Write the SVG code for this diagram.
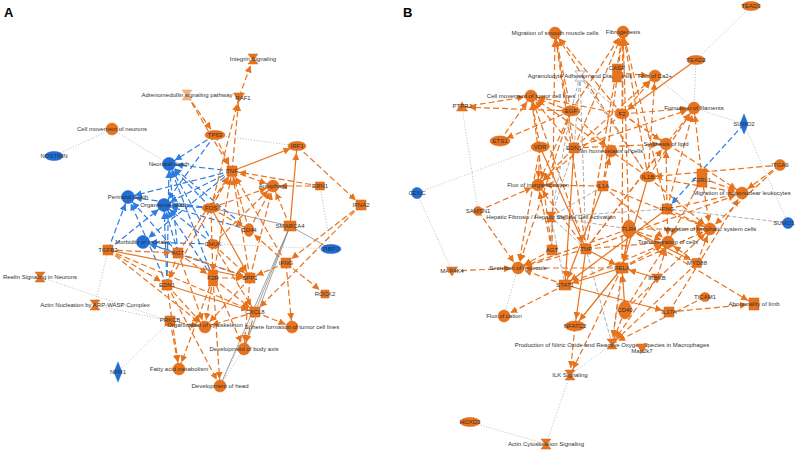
<svg xmlns="http://www.w3.org/2000/svg" xmlns:xlink="http://www.w3.org/1999/xlink" width="796" height="451" viewBox="0 0 796 451">
<style>
.n{fill:#E8731C;stroke:#d4651a;stroke-width:.5}
.nb{fill:#1F6FD8;stroke:#1a5fc0;stroke-width:.5}
.nl{fill:#F4B183;stroke:#e8a070;stroke-width:.5}
.nw{fill:#fff;stroke:#999;stroke-width:.7}
.o{stroke:#E8731C;stroke-width:1.2;stroke-dasharray:6 3;fill:none;marker-end:url(#ao)}
.os{stroke:#E8731C;stroke-width:1.2;fill:none;marker-end:url(#ao)}
.b{stroke:#2D7DE0;stroke-width:1.2;stroke-dasharray:6 3;fill:none;marker-end:url(#ab)}
.gs{stroke:#8a8a8a;stroke-width:.8;fill:none}
.gd{stroke:#aaa;stroke-width:.8;stroke-dasharray:1 1.8;fill:none}
.gdash{stroke:#999;stroke-width:.8;stroke-dasharray:4 2;fill:none}
text{font-family:"Liberation Sans",Arial,sans-serif;font-size:6px;fill:#333;text-anchor:middle}
.pl{font-size:13px;font-weight:bold;fill:#000;text-anchor:start}
</style>
<defs>
<marker id="ao" viewBox="0 0 7 7" refX="14" refY="3.5" markerWidth="7" markerHeight="7" markerUnits="userSpaceOnUse" orient="auto"><path d="M0,0L7,3.5L0,7z" fill="#E8731C"/></marker>
<marker id="ab" viewBox="0 0 7 7" refX="14" refY="3.5" markerWidth="7" markerHeight="7" markerUnits="userSpaceOnUse" orient="auto"><path d="M0,0L7,3.5L0,7z" fill="#2D7DE0"/></marker>
<path id="hg" d="M-5,-5H5L1.2,0L5,5H-5L-1.2,0Z"/>
<path id="tri" d="M0,-5L5.5,4H-5.5Z"/>
<path id="vtri" d="M-5.5,-4H5.5L0,5Z"/>
</defs>
<rect width="796" height="451" fill="#fff"/>
<text class="pl" x="4" y="17">A</text>
<text class="pl" x="403" y="17">B</text>

<g id="connectors">
<g id="a-edges">
<line class="gd" x1="112" y1="129" x2="54" y2="156"/>
<line class="gd" x1="112" y1="129" x2="169" y2="164"/>
<line class="gd" x1="215" y1="135" x2="297" y2="146"/>
<line class="gd" x1="40" y1="277" x2="170" y2="321"/>
<line class="gd" x1="95" y1="305" x2="170" y2="321"/>
<line class="gd" x1="118" y1="372" x2="170" y2="321"/>
<line class="gd" x1="108" y1="250" x2="95" y2="305"/>
<line class="gd" x1="213" y1="244" x2="331" y2="249"/>
<line class="gd" x1="320" y1="186" x2="331" y2="249"/>
<line class="gd" x1="244" y1="349" x2="220" y2="386"/>
<line class="gd" x1="255" y1="312" x2="220" y2="386"/>
<line class="gs" x1="211" y1="208" x2="290" y2="226"/>
<line class="gs" x1="290" y1="226" x2="331" y2="249"/>
<line class="gs" x1="290" y1="226" x2="255" y2="312"/>
<line class="gs" x1="290" y1="226" x2="220" y2="386"/>
<line class="gs" x1="290" y1="226" x2="244" y2="349"/>
<line class="b" x1="215" y1="135" x2="169" y2="164"/>
<line class="b" x1="215" y1="135" x2="164" y2="205"/>
<line class="b" x1="232" y1="171" x2="169" y2="164"/>
<line class="b" x1="232" y1="171" x2="128" y2="197"/>
<line class="b" x1="232" y1="171" x2="164" y2="205"/>
<line class="b" x1="232" y1="171" x2="143" y2="242"/>
<line class="b" x1="211" y1="208" x2="169" y2="164"/>
<line class="b" x1="211" y1="208" x2="128" y2="197"/>
<line class="b" x1="211" y1="208" x2="164" y2="205"/>
<line class="b" x1="213" y1="244" x2="169" y2="164"/>
<line class="b" x1="213" y1="244" x2="164" y2="205"/>
<line class="b" x1="213" y1="244" x2="143" y2="242"/>
<line class="b" x1="178" y1="253" x2="169" y2="164"/>
<line class="b" x1="178" y1="253" x2="128" y2="197"/>
<line class="b" x1="178" y1="253" x2="164" y2="205"/>
<line class="b" x1="178" y1="253" x2="143" y2="242"/>
<line class="b" x1="167" y1="285" x2="169" y2="164"/>
<line class="b" x1="167" y1="285" x2="164" y2="205"/>
<line class="b" x1="167" y1="285" x2="128" y2="197"/>
<line class="b" x1="213" y1="278" x2="169" y2="164"/>
<line class="b" x1="213" y1="278" x2="164" y2="205"/>
<line class="b" x1="249" y1="230" x2="164" y2="205"/>
<line class="b" x1="249" y1="230" x2="169" y2="164"/>
<line class="b" x1="108" y1="250" x2="128" y2="197"/>
<line class="b" x1="108" y1="250" x2="164" y2="205"/>
<line class="b" x1="250" y1="278" x2="143" y2="242"/>
<line class="o" x1="239" y1="97" x2="253" y2="59"/>
<line class="o" x1="211" y1="208" x2="239" y2="97"/>
<line class="o" x1="232" y1="171" x2="239" y2="97"/>
<line class="o" x1="187" y1="95" x2="215" y2="135"/>
<line class="o" x1="187" y1="95" x2="232" y2="171"/>
<line class="o" x1="320" y1="186" x2="232" y2="171"/>
<line class="o" x1="320" y1="186" x2="273" y2="186"/>
<line class="o" x1="232" y1="171" x2="273" y2="186"/>
<line class="o" x1="297" y1="146" x2="361" y2="205"/>
<line class="o" x1="361" y1="205" x2="286" y2="263"/>
<line class="o" x1="361" y1="205" x2="255" y2="312"/>
<line class="o" x1="211" y1="208" x2="232" y2="171"/>
<line class="o" x1="211" y1="208" x2="273" y2="186"/>
<line class="o" x1="249" y1="230" x2="273" y2="186"/>
<line class="o" x1="250" y1="278" x2="273" y2="186"/>
<line class="o" x1="249" y1="230" x2="232" y2="171"/>
<line class="o" x1="250" y1="278" x2="232" y2="171"/>
<line class="o" x1="178" y1="253" x2="232" y2="171"/>
<line class="o" x1="167" y1="285" x2="232" y2="171"/>
<line class="o" x1="213" y1="278" x2="232" y2="171"/>
<line class="o" x1="286" y1="263" x2="232" y2="171"/>
<line class="o" x1="286" y1="263" x2="325" y2="294"/>
<line class="o" x1="286" y1="263" x2="250" y2="278"/>
<line class="o" x1="286" y1="263" x2="249" y2="230"/>
<line class="o" x1="286" y1="263" x2="292" y2="327"/>
<line class="o" x1="215" y1="135" x2="232" y2="171"/>
<line class="o" x1="108" y1="250" x2="178" y2="253"/>
<line class="o" x1="108" y1="250" x2="167" y2="285"/>
<line class="o" x1="108" y1="250" x2="205" y2="327"/>
<line class="o" x1="108" y1="250" x2="255" y2="312"/>
<line class="o" x1="178" y1="253" x2="213" y2="278"/>
<line class="o" x1="178" y1="253" x2="167" y2="285"/>
<line class="o" x1="178" y1="253" x2="205" y2="327"/>
<line class="o" x1="178" y1="253" x2="250" y2="278"/>
<line class="o" x1="167" y1="285" x2="205" y2="327"/>
<line class="o" x1="167" y1="285" x2="179" y2="369"/>
<line class="o" x1="167" y1="285" x2="220" y2="386"/>
<line class="o" x1="213" y1="278" x2="205" y2="327"/>
<line class="o" x1="213" y1="278" x2="255" y2="312"/>
<line class="o" x1="213" y1="278" x2="220" y2="386"/>
<line class="o" x1="213" y1="278" x2="179" y2="369"/>
<line class="o" x1="250" y1="278" x2="205" y2="327"/>
<line class="o" x1="250" y1="278" x2="244" y2="349"/>
<line class="o" x1="255" y1="312" x2="205" y2="327"/>
<line class="o" x1="255" y1="312" x2="292" y2="327"/>
<line class="o" x1="255" y1="312" x2="244" y2="349"/>
<line class="o" x1="170" y1="321" x2="179" y2="369"/>
<line class="o" x1="170" y1="321" x2="205" y2="327"/>
<line class="o" x1="213" y1="244" x2="255" y2="312"/>
<line class="o" x1="213" y1="244" x2="250" y2="278"/>
<line class="o" x1="211" y1="208" x2="213" y2="278"/>
<line class="o" x1="211" y1="208" x2="249" y2="230"/>
<line class="o" x1="290" y1="226" x2="273" y2="186"/>
<line class="o" x1="213" y1="278" x2="250" y2="278"/>
<line class="o" x1="213" y1="278" x2="244" y2="349"/>
<line class="o" x1="213" y1="244" x2="273" y2="186"/>
<line class="os" x1="232" y1="171" x2="297" y2="146"/>
<line class="os" x1="290" y1="226" x2="297" y2="146"/>
<line class="os" x1="108" y1="250" x2="250" y2="278"/>
<line class="os" x1="211" y1="208" x2="250" y2="278"/>
<line class="os" x1="167" y1="285" x2="255" y2="312"/>
</g>
<g id="b-edges">
<line class="gd" x1="751" y1="6" x2="696" y2="60"/>
<line class="gd" x1="696" y1="60" x2="694" y2="108"/>
<line class="gd" x1="655" y1="76" x2="694" y2="108"/>
<line class="gd" x1="694" y1="108" x2="744" y2="124"/>
<line class="gd" x1="744" y1="124" x2="788" y2="223"/>
<line class="gd" x1="462" y1="107" x2="478" y2="211"/>
<line class="gd" x1="417" y1="193" x2="540" y2="147"/>
<line class="gd" x1="417" y1="193" x2="452" y2="271"/>
<line class="gd" x1="518" y1="268" x2="504" y2="316"/>
<line class="gd" x1="470" y1="422" x2="546" y2="444"/>
<line class="gd" x1="570" y1="375" x2="546" y2="444"/>
<line class="gd" x1="612" y1="344" x2="570" y2="375"/>
<line class="gdash" x1="580" y1="76" x2="622" y2="114"/>
<line class="gdash" x1="580" y1="76" x2="571" y2="111"/>
<line class="gdash" x1="580" y1="76" x2="574" y2="148"/>
<line class="gdash" x1="580" y1="76" x2="586" y2="249"/>
<line class="gdash" x1="580" y1="76" x2="648" y2="177"/>
<line class="gdash" x1="551" y1="217" x2="586" y2="249"/>
<line class="gdash" x1="551" y1="217" x2="552" y2="250"/>
<line class="gdash" x1="551" y1="217" x2="667" y2="209"/>
<line class="gdash" x1="551" y1="217" x2="603" y2="186"/>
<line class="gdash" x1="551" y1="217" x2="629" y2="229"/>
<line class="gdash" x1="551" y1="217" x2="571" y2="111"/>
<line class="gdash" x1="551" y1="217" x2="565" y2="285"/>
<line class="gdash" x1="551" y1="217" x2="574" y2="148"/>
<line class="gdash" x1="667" y1="209" x2="788" y2="223"/>
<line class="gdash" x1="612" y1="344" x2="586" y2="249"/>
<line class="gdash" x1="612" y1="344" x2="629" y2="229"/>
<line class="b" x1="744" y1="124" x2="667" y2="209"/>
<line class="o" x1="571" y1="111" x2="555" y2="33"/>
<line class="o" x1="571" y1="111" x2="531" y2="96"/>
<line class="o" x1="571" y1="111" x2="623" y2="32"/>
<line class="o" x1="571" y1="111" x2="538" y2="185"/>
<line class="o" x1="571" y1="111" x2="500" y2="141"/>
<line class="o" x1="571" y1="111" x2="462" y2="107"/>
<line class="o" x1="571" y1="111" x2="518" y2="268"/>
<line class="o" x1="622" y1="114" x2="555" y2="33"/>
<line class="o" x1="622" y1="114" x2="623" y2="32"/>
<line class="o" x1="622" y1="114" x2="655" y2="76"/>
<line class="o" x1="622" y1="114" x2="694" y2="108"/>
<line class="o" x1="622" y1="114" x2="531" y2="96"/>
<line class="o" x1="622" y1="114" x2="666" y2="144"/>
<line class="o" x1="622" y1="114" x2="538" y2="185"/>
<line class="o" x1="617" y1="73" x2="655" y2="76"/>
<line class="o" x1="574" y1="148" x2="555" y2="33"/>
<line class="o" x1="574" y1="148" x2="531" y2="96"/>
<line class="o" x1="574" y1="148" x2="655" y2="76"/>
<line class="o" x1="574" y1="148" x2="538" y2="185"/>
<line class="o" x1="574" y1="148" x2="666" y2="144"/>
<line class="o" x1="574" y1="148" x2="623" y2="32"/>
<line class="o" x1="540" y1="147" x2="531" y2="96"/>
<line class="o" x1="540" y1="147" x2="538" y2="185"/>
<line class="o" x1="540" y1="147" x2="518" y2="268"/>
<line class="o" x1="500" y1="141" x2="531" y2="96"/>
<line class="o" x1="462" y1="107" x2="531" y2="96"/>
<line class="o" x1="648" y1="177" x2="623" y2="32"/>
<line class="o" x1="648" y1="177" x2="655" y2="76"/>
<line class="o" x1="648" y1="177" x2="694" y2="108"/>
<line class="o" x1="648" y1="177" x2="742" y2="193"/>
<line class="o" x1="648" y1="177" x2="710" y2="229"/>
<line class="o" x1="648" y1="177" x2="531" y2="96"/>
<line class="o" x1="648" y1="177" x2="555" y2="33"/>
<line class="o" x1="603" y1="186" x2="623" y2="32"/>
<line class="o" x1="603" y1="186" x2="538" y2="185"/>
<line class="o" x1="603" y1="186" x2="668" y2="242"/>
<line class="o" x1="603" y1="186" x2="710" y2="229"/>
<line class="o" x1="603" y1="186" x2="611" y2="151"/>
<line class="o" x1="667" y1="209" x2="694" y2="108"/>
<line class="o" x1="667" y1="209" x2="666" y2="144"/>
<line class="o" x1="667" y1="209" x2="742" y2="193"/>
<line class="o" x1="667" y1="209" x2="710" y2="229"/>
<line class="o" x1="667" y1="209" x2="668" y2="242"/>
<line class="o" x1="667" y1="209" x2="623" y2="32"/>
<line class="o" x1="629" y1="229" x2="710" y2="229"/>
<line class="o" x1="629" y1="229" x2="668" y2="242"/>
<line class="o" x1="629" y1="229" x2="623" y2="32"/>
<line class="o" x1="629" y1="229" x2="518" y2="268"/>
<line class="o" x1="629" y1="229" x2="754" y2="304"/>
<line class="o" x1="586" y1="249" x2="623" y2="32"/>
<line class="o" x1="586" y1="249" x2="555" y2="33"/>
<line class="o" x1="586" y1="249" x2="531" y2="96"/>
<line class="o" x1="586" y1="249" x2="538" y2="185"/>
<line class="o" x1="586" y1="249" x2="518" y2="268"/>
<line class="o" x1="586" y1="249" x2="668" y2="242"/>
<line class="o" x1="586" y1="249" x2="742" y2="193"/>
<line class="o" x1="586" y1="249" x2="666" y2="144"/>
<line class="o" x1="586" y1="249" x2="694" y2="108"/>
<line class="o" x1="552" y1="250" x2="538" y2="185"/>
<line class="o" x1="552" y1="250" x2="518" y2="268"/>
<line class="o" x1="552" y1="250" x2="555" y2="33"/>
<line class="o" x1="552" y1="250" x2="531" y2="96"/>
<line class="o" x1="622" y1="268" x2="668" y2="242"/>
<line class="o" x1="622" y1="268" x2="710" y2="229"/>
<line class="o" x1="622" y1="268" x2="623" y2="32"/>
<line class="o" x1="622" y1="268" x2="518" y2="268"/>
<line class="o" x1="622" y1="268" x2="612" y2="344"/>
<line class="o" x1="565" y1="285" x2="518" y2="268"/>
<line class="o" x1="565" y1="285" x2="504" y2="316"/>
<line class="o" x1="565" y1="285" x2="668" y2="242"/>
<line class="o" x1="625" y1="310" x2="668" y2="242"/>
<line class="o" x1="625" y1="310" x2="710" y2="229"/>
<line class="o" x1="625" y1="310" x2="612" y2="344"/>
<line class="o" x1="657" y1="278" x2="668" y2="242"/>
<line class="o" x1="657" y1="278" x2="612" y2="344"/>
<line class="o" x1="697" y1="263" x2="710" y2="229"/>
<line class="o" x1="697" y1="263" x2="668" y2="242"/>
<line class="o" x1="697" y1="263" x2="612" y2="344"/>
<line class="o" x1="705" y1="297" x2="612" y2="344"/>
<line class="o" x1="669" y1="312" x2="754" y2="304"/>
<line class="o" x1="669" y1="312" x2="742" y2="193"/>
<line class="o" x1="575" y1="326" x2="570" y2="375"/>
<line class="o" x1="622" y1="268" x2="570" y2="375"/>
<line class="o" x1="452" y1="271" x2="518" y2="268"/>
<line class="o" x1="478" y1="211" x2="538" y2="185"/>
<line class="o" x1="478" y1="211" x2="518" y2="268"/>
<line class="o" x1="702" y1="178" x2="742" y2="193"/>
<line class="o" x1="702" y1="178" x2="694" y2="108"/>
<line class="o" x1="702" y1="178" x2="710" y2="229"/>
<line class="o" x1="702" y1="178" x2="668" y2="242"/>
<line class="o" x1="780" y1="165" x2="742" y2="193"/>
<line class="o" x1="780" y1="165" x2="648" y2="177"/>
<line class="o" x1="780" y1="165" x2="710" y2="229"/>
<line class="o" x1="574" y1="148" x2="694" y2="108"/>
<line class="o" x1="622" y1="114" x2="742" y2="193"/>
<line class="o" x1="571" y1="111" x2="611" y2="151"/>
<line class="os" x1="696" y1="60" x2="622" y2="114"/>
<line class="os" x1="629" y1="229" x2="622" y2="268"/>
<line class="os" x1="586" y1="249" x2="622" y2="268"/>
<line class="os" x1="648" y1="177" x2="622" y2="268"/>
<line class="os" x1="622" y1="268" x2="565" y2="285"/>
<line class="os" x1="574" y1="148" x2="565" y2="285"/>
<line class="os" x1="586" y1="249" x2="575" y2="326"/>
<line class="os" x1="622" y1="268" x2="575" y2="326"/>
<line class="os" x1="625" y1="310" x2="622" y2="268"/>
<line class="os" x1="603" y1="186" x2="565" y2="285"/>
<line class="os" x1="540" y1="147" x2="586" y2="249"/>
<line class="os" x1="565" y1="285" x2="669" y2="312"/>
<line class="os" x1="667" y1="209" x2="565" y2="285"/>
<line class="os" x1="629" y1="229" x2="697" y2="263"/>
<line class="os" x1="657" y1="278" x2="622" y2="268"/>
</g>
</g>

<g id="a-integrin" transform="translate(253,59)"><use href="#hg" class="n"/><text y="2">Integrin Signaling</text></g>
<g id="a-adrenomedullin" transform="translate(187,95)"><use href="#hg" class="nl"/><text y="2">Adrenomedullin signaling pathway</text></g>
<g id="a-raf1" transform="translate(239,97)"><use href="#vtri" class="n"/><text x="4" y="3">RAF1</text></g>
<g id="a-tp63" transform="translate(215,135)"><ellipse class="n" rx="10" ry="4.5"/><text y="2">TP63</text></g>
<g id="a-irf1" transform="translate(297,146)"><ellipse class="n" rx="9" ry="4.5"/><text y="2">IRF1</text></g>
<g id="a-cellmov" transform="translate(112,129)"><circle class="n" r="6"/><text y="2">Cell movement of neurons</text></g>
<g id="a-nostrin" transform="translate(54,156)"><ellipse class="nb" rx="9" ry="4.5"/><text y="2">NOSTRIN</text></g>
<g id="a-neonatal" transform="translate(169,164)"><circle class="nb" r="6.5"/><text y="2">Neonatal death</text></g>
<g id="a-tnf" transform="translate(232,171)"><rect class="n" x="-5" y="-5" width="10" height="10"/><text y="2">TNF</text></g>
<g id="a-autophagy" transform="translate(273,186)"><circle class="n" r="6"/><text y="2">Autophagy</text></g>
<g id="a-ern1" transform="translate(320,186)"><rect class="n" x="-4.5" y="-4" width="9" height="8"/><text y="2">ERN1</text></g>
<g id="a-ifna2" transform="translate(361,205)"><rect class="n" x="-5" y="-5" width="10" height="10"/><text y="2">IFNA2</text></g>
<g id="a-perinatal" transform="translate(128,197)"><circle class="nb" r="6.5"/><text y="2">Perinatal death</text></g>
<g id="a-organismal" transform="translate(164,205)"><circle class="nb" r="6.5"/><text y="2">Organismal death</text></g>
<g id="a-fos" transform="translate(211,208)"><ellipse class="n" rx="9" ry="4.5"/><text y="2">FOS</text></g>
<g id="a-smarca4" transform="translate(290,226)"><rect class="n" x="-6" y="-5" width="12" height="10"/><text y="2">SMARCA4</text></g>
<g id="a-cd44" transform="translate(249,230)"><ellipse class="n" rx="5" ry="6.5"/><text y="2">CD44</text></g>
<g id="a-chuk" transform="translate(213,244)"><ellipse class="n" rx="6" ry="4.5"/><text y="2">CHUK</text></g>
<g id="a-rbpj" transform="translate(331,249)"><ellipse class="nb" rx="10" ry="4.5"/><text y="2">RBPJ</text></g>
<g id="a-morbidity" transform="translate(143,242)"><circle class="nb" r="6.5"/><text y="2">Morbidity or mortality</text></g>
<g id="a-tgfb3" transform="translate(108,250)"><rect class="n" x="-5" y="-5" width="10" height="10"/><text y="2">TGFB3</text></g>
<g id="a-agt" transform="translate(178,253)"><rect class="n" x="-5" y="-5" width="10" height="10"/><text y="2">AGT</text></g>
<g id="a-ifng" transform="translate(286,263)"><rect class="n" x="-5" y="-5" width="10" height="10"/><text y="2">IFNG</text></g>
<g id="a-f2r" transform="translate(213,278)"><rect class="n" x="-4.5" y="-8" width="9" height="16"/><text y="2">F2R</text></g>
<g id="a-spp1" transform="translate(250,278)"><rect class="n" x="-5" y="-5" width="10" height="10"/><text y="2">SPP1</text></g>
<g id="a-edn1" transform="translate(167,285)"><rect class="n" x="-5" y="-5" width="10" height="10"/><text y="2">EDN1</text></g>
<g id="a-rock2" transform="translate(325,294)"><rect class="n" x="-4" y="-4" width="8" height="8"/><text y="2">ROCK2</text></g>
<g id="a-reelin" transform="translate(40,277)"><use href="#hg" class="n"/><text y="2">Reelin Signaling in Neurons</text></g>
<g id="a-actinnuc" transform="translate(95,305)"><use href="#hg" class="n"/><text y="2">Actin Nucleation by ARP-WASP Complex</text></g>
<g id="a-cxcl8" transform="translate(255,312)"><rect class="n" x="-5" y="-5" width="10" height="10"/><text y="2">CXCL8</text></g>
<g id="a-prkcb" transform="translate(170,321)"><rect class="n" x="-5" y="-5" width="10" height="10"/><text y="1">PRKCB</text></g>
<g id="a-orgcyto" transform="translate(205,327)"><circle class="n" r="6"/><text y="0">Organization of cytoskeleton</text></g>
<g id="a-sphere" transform="translate(292,327)"><circle class="n" r="6"/><text y="2">Sphere formation of tumor cell lines</text></g>
<g id="a-bodyaxis" transform="translate(244,349)"><circle class="n" r="6"/><text y="2">Development of body axis</text></g>
<g id="a-fatty" transform="translate(179,369)"><circle class="n" r="6"/><text y="2">Fatty acid metabolism</text></g>
<g id="a-head" transform="translate(220,386)"><circle class="n" r="6"/><text y="2">Development of head</text></g>
<g id="a-npr1" transform="translate(118,372)"><path class="nb" d="M0,-10L4,0L0,10L-4,0Z"/><text y="2">NPR1</text></g>

<g id="b-smooth" transform="translate(555,33)"><circle class="n" r="6"/><text y="2">Migration of smooth muscle cells</text></g>
<g id="b-tead3" transform="translate(751,6)"><ellipse class="n" rx="9" ry="4.5"/><text y="2">TEAD3</text></g>
<g id="b-fibro" transform="translate(623,32)"><circle class="n" r="6"/><text y="2">Fibrogenesis</text></g>
<g id="b-tead2" transform="translate(696,60)"><ellipse class="n" rx="9" ry="4.5"/><text y="2">TEAD2</text></g>
<g id="b-agranulocyte" transform="translate(580,76)"><use href="#hg" class="nw"/><text y="2">Agranulocyte Adhesion and Diapedesis</text></g>
<g id="b-casr" transform="translate(617,73)"><rect class="n" x="-4.5" y="-9" width="9" height="18"/><text y="-3">CASR</text></g>
<g id="b-fluxca" transform="translate(655,76)"><circle class="n" r="6"/><text y="2">Flux of Ca2+</text></g>
<g id="b-cellmov" transform="translate(531,96)"><circle class="n" r="6"/><text y="2">Cell movement of tumor cell lines</text></g>
<g id="b-ptprj" transform="translate(462,107)"><use href="#tri" class="n"/><text y="1">PTPRJ</text></g>
<g id="b-egf" transform="translate(571,111)"><ellipse class="n" rx="9" ry="5"/><text y="2">EGF</text></g>
<g id="b-f2" transform="translate(622,114)"><ellipse class="n" rx="7" ry="5"/><text y="2">F2</text></g>
<g id="b-filaments" transform="translate(694,108)"><circle class="n" r="6"/><text y="2">Formation of filaments</text></g>
<g id="b-sumo2" transform="translate(744,124)"><path class="nb" d="M0,-10L4,0L0,10L-4,0Z"/><text y="2">SUMO2</text></g>
<g id="b-ets1" transform="translate(500,141)"><ellipse class="n" rx="10" ry="5"/><text y="2">ETS1</text></g>
<g id="b-vdr" transform="translate(540,147)"><ellipse class="n" rx="9" ry="5"/><text y="2">VDR</text></g>
<g id="b-edn1" transform="translate(574,148)"><rect class="n" x="-5" y="-5" width="10" height="10"/><text y="2">EDN1</text></g>
<g id="b-ionhomeo" transform="translate(611,151)"><circle class="n" r="6"/><text y="2">Ion homeostasis of cells</text></g>
<g id="b-lipid" transform="translate(666,144)"><circle class="n" r="6"/><text y="2">Synthesis of lipid</text></g>
<g id="b-itga9" transform="translate(780,165)"><ellipse class="n" rx="5.5" ry="5.5"/><text y="2">ITGA9</text></g>
<g id="b-f2rl1" transform="translate(702,178)"><rect class="n" x="-5" y="-9" width="10" height="18"/><text y="4">F2RL1</text></g>
<g id="b-il1b" transform="translate(648,177)"><ellipse class="n" rx="8" ry="5"/><text y="2">IL1B</text></g>
<g id="b-mononuc" transform="translate(742,193)"><circle class="n" r="6"/><text y="2">Migration of mononuclear leukocytes</text></g>
<g id="b-cenc" transform="translate(417,193)"><circle class="nb" r="5.5"/><text y="2">CENC</text></g>
<g id="b-fluxinorg" transform="translate(538,185)"><circle class="n" r="6"/><text y="2">Flux of inorganic cation</text></g>
<g id="b-il1a" transform="translate(603,186)"><rect class="n" x="-5" y="-5" width="10" height="10"/><text y="2">IL1A</text></g>
<g id="b-samsn1" transform="translate(478,211)"><circle class="n" r="4.5"/><text y="2">SAMSN1</text></g>
<g id="b-hepatic" transform="translate(551,217)"><use href="#hg" class="n"/><text y="2">Hepatic Fibrosis / Hepatic Stellate Cell Activation</text></g>
<g id="b-ifng" transform="translate(667,209)"><rect class="n" x="-5" y="-5" width="10" height="10"/><text y="2">IFNG</text></g>
<g id="b-tlr4" transform="translate(629,229)"><ellipse class="n" rx="6.5" ry="9"/><text y="2">TLR4</text></g>
<g id="b-lymph" transform="translate(710,229)"><circle class="n" r="6"/><text y="2">Migration of lymphatic system cells</text></g>
<g id="b-agt" transform="translate(552,250)"><rect class="n" x="-5" y="-5" width="10" height="10"/><text y="2">AGT</text></g>
<g id="b-tnf" transform="translate(586,249)"><rect class="n" x="-5" y="-5" width="10" height="10"/><text y="2">TNF</text></g>
<g id="b-transmig" transform="translate(668,242)"><circle class="n" r="6"/><text y="2">Transmigration of cells</text></g>
<g id="b-myd88" transform="translate(697,263)"><rect class="n" x="-4.5" y="-4.5" width="9" height="9"/><text y="2">MYD88</text></g>
<g id="b-map4k4" transform="translate(452,271)"><use href="#vtri" class="n"/><text y="2">MAP4K4</text></g>
<g id="b-secretion" transform="translate(518,268)"><circle class="n" r="6"/><text y="2">Secretion of molecule</text></g>
<g id="b-stat1" transform="translate(565,285)"><rect class="n" x="-6" y="-5" width="12" height="10"/><text y="2">STAT1</text></g>
<g id="b-rela" transform="translate(622,268)"><rect class="n" x="-6" y="-5" width="12" height="10"/><text y="2">RELA</text></g>
<g id="b-ikbkb" transform="translate(657,278)"><use href="#vtri" class="n"/><text y="2">IKBKB</text></g>
<g id="b-ticam1" transform="translate(705,297)"><ellipse class="n" rx="5" ry="4.5"/><text y="2">TICAM1</text></g>
<g id="b-limb" transform="translate(754,304)"><rect class="n" x="-5" y="-6" width="10" height="12"/><text y="2">Abnormality of limb</text></g>
<g id="b-cd40" transform="translate(625,310)"><ellipse class="n" rx="6.5" ry="9"/><text y="2">CD40</text></g>
<g id="b-il17a" transform="translate(669,312)"><rect class="n" x="-5" y="-5" width="10" height="10"/><text y="2">IL17A</text></g>
<g id="b-fluxcation" transform="translate(504,316)"><circle class="n" r="6"/><text y="2">Flux of cation</text></g>
<g id="b-nfatc2" transform="translate(575,326)"><ellipse class="n" rx="10" ry="5"/><text y="2">NFATC2</text></g>
<g id="b-nitric" transform="translate(612,344)"><use href="#hg" class="n"/><text y="3">Production of Nitric Oxide and Reactive Oxygen Species in Macrophages</text></g>
<g id="b-map2k7" transform="translate(642,348)"><use href="#vtri" class="n"/><text y="5">Map2k7</text></g>
<g id="b-ilk" transform="translate(570,375)"><use href="#hg" class="n"/><text y="2">ILK Signaling</text></g>
<g id="b-hoxd3" transform="translate(470,422)"><ellipse class="n" rx="10" ry="4.5"/><text y="2">HOXD3</text></g>
<g id="b-actincyto" transform="translate(546,444)"><use href="#hg" class="n"/><text y="2">Actin Cytoskeleton Signaling</text></g>
<g id="b-sumo1" transform="translate(788,223)"><circle class="nb" r="5.5"/><text x="-4" y="2">SUMO1</text></g>
</svg>
